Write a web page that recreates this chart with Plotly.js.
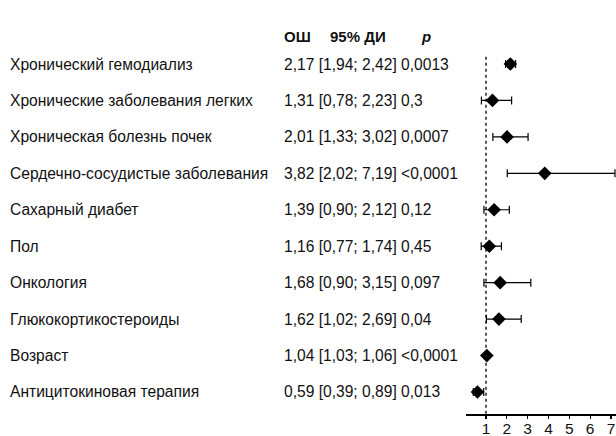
<!DOCTYPE html>
<html>
<head>
<meta charset="utf-8">
<script src="https://cdn.plot.ly/plotly-3.0.1.min.js"></script>
<style>html,body{margin:0;padding:0;background:#fff;}#chart{width:616px;height:436px;}</style>
</head>
<body>
<div id="chart"></div>
<script>
const factors = ["Хронический гемодиализ","Хронические заболевания легких","Хроническая болезнь почек","Сердечно-сосудистые заболевания","Сахарный диабет","Пол","Онкология","Глюкокортикостероиды","Возраст","Антицитокиновая терапия"];
const orValues = [2.17,1.31,2.01,3.82,1.39,1.16,1.68,1.62,1.04,0.59];
const ciLow = [1.94,0.78,1.33,2.02,0.90,0.77,0.90,1.02,1.03,0.39];
const ciHigh = [2.42,2.23,3.02,7.19,2.12,1.74,3.15,2.69,1.06,0.89];
const pValues = ["0,0013","0,3","0,0007","<0,0001","0,12","0,45","0,097","0,04","<0,0001","0,013"];
const headers = ["ОШ","95% ДИ","p"];
const tickVals = [1,2,3,4,5,6,7];

const n = factors.length;
const yPos = factors.map((_, i) => n - 1 - i);
const fmt = v => v.toFixed(2).replace('.', ',');

const W = 150; // plot width px
const L = 466;
const px = p => (p - L) / W; // pixel -> paper x

const font = {family: "Liberation Sans, Arial, sans-serif", size: 15.6, color: "#111"};
const annotations = [];
factors.forEach((f, i) => {
  annotations.push({xref: 'paper', yref: 'y', x: px(8), y: yPos[i], text: f, showarrow: false, xanchor: 'left', yanchor: 'middle', font: font});
  annotations.push({xref: 'paper', yref: 'y', x: px(282), y: yPos[i],
    text: fmt(orValues[i]) + ' [' + fmt(ciLow[i]) + '; ' + fmt(ciHigh[i]) + '] ' + pValues[i],
    showarrow: false, xanchor: 'left', yanchor: 'middle', font: font});
});
const headerX = [282, 328, 419];
headers.forEach((h, k) => {
  annotations.push({xref: 'paper', yref: 'paper', x: px(headerX[k]), y: 1 + 10 / 368, text: k === 2 ? '<b><i>' + h + '</i></b>' : '<b>' + h + '</b>',
    showarrow: false, xanchor: 'left', yanchor: 'middle', font: {family: font.family, size: 15, color: '#111'}});
});

const trace = {
  type: 'scatter', mode: 'markers',
  x: orValues, y: yPos,
  marker: {symbol: 'diamond', size: 10.5, color: '#000'},
  error_x: {type: 'data', symmetric: false,
    array: orValues.map((v, i) => ciHigh[i] - v),
    arrayminus: orValues.map((v, i) => v - ciLow[i]),
    color: '#000', thickness: 1.2, width: 4},
  hoverinfo: 'skip', showlegend: false, cliponaxis: false
};

const layout = {
  width: 616, height: 436,
  margin: {l: L, r: 0, t: 46, b: 22, pad: 0},
  paper_bgcolor: '#fff', plot_bgcolor: '#fff',
  xaxis: {range: [0.04, 7.24], tickvals: tickVals, ticks: 'outside', ticklen: 3, tickwidth: 1.2, tickcolor: '#000',
    ticklabelstandoff: -4,
    showline: true, linecolor: '#000', linewidth: 2, showgrid: false, zeroline: false,
    tickfont: {family: "Liberation Sans, Arial, sans-serif", size: 15.5, color: '#111'}, fixedrange: true},
  yaxis: {range: [-0.604, 9.494], showticklabels: false, showgrid: false, zeroline: false, showline: false, ticks: '', fixedrange: true},
  shapes: [{type: 'line', xref: 'x', yref: 'y', x0: 1, x1: 1, y0: -0.6, y1: 9.22,
    line: {color: '#000', width: 1.3, dash: '3px,3px'}, layer: 'below'}],
  annotations: annotations
};

Plotly.newPlot('chart', [trace], layout, {displayModeBar: false, staticPlot: true});
</script>
</body>
</html>
